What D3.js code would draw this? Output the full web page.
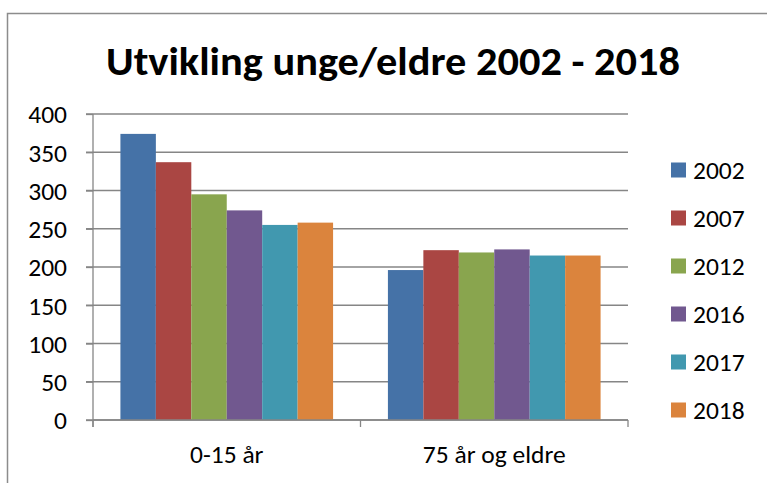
<!DOCTYPE html>
<html>
<head>
<meta charset="utf-8">
<script src="https://cdn.jsdelivr.net/npm/d3@7"></script>
<style>
  body { margin: 0; background: #fff; }
  svg text { font-family: Calibri, Carlito, "Liberation Sans", Arial, sans-serif; fill: #000; }
</style>
</head>
<body>
<svg id="chart" width="767" height="483"></svg>
<script>
// data
const groups = ["0-15 år", "75 år og eldre"];
const years = ["2002", "2007", "2012", "2016", "2017", "2018"];
const young = [374, 337, 295, 274, 255, 258];
const old = [196, 222, 219, 223, 215, 215];
const yTicks = [0, 50, 100, 150, 200, 250, 300, 350, 400];
const colors = ["#4572A7", "#AA4643", "#89A54E", "#71588F", "#4198AF", "#DB843D"];

const rows = [young, old].map((vals, i) => ({ group: groups[i], vals }));

const svg = d3.select("#chart");
const plotL = 93, plotR = 628, plotT = 114, plotB = 420;
const fs = 25.5;

// outer chart frame
svg.append("rect")
  .attr("x", 7.5).attr("y", 13.5)
  .attr("width", 800).attr("height", 500)
  .attr("fill", "none").attr("stroke", "#8c8c8c").attr("stroke-width", 1.5);

svg.append("text")
  .attr("x", 393).attr("y", 75)
  .attr("text-anchor", "middle")
  .attr("font-size", 40).attr("font-weight", "bold")
  .attr("textLength", 574).attr("lengthAdjust", "spacingAndGlyphs")
  .text("Utvikling unge/eldre 2002 - 2018");

const x0 = d3.scaleBand().domain(groups).range([plotL, plotR]);
const x1 = d3.scaleBand().domain(years)
  .range([0, x0.bandwidth() * 0.795]).paddingInner(0);
const y = d3.scaleLinear().domain([0, 400]).range([plotB, plotT]);

// gridlines
svg.append("g")
  .selectAll("line").data(yTicks).join("line")
  .attr("x1", plotL - 7).attr("x2", plotR)
  .attr("y1", d => y(d)).attr("y2", d => y(d))
  .attr("stroke", "#868686").attr("stroke-width", 1.3);

// y axis
const yAxis = svg.append("g")
  .attr("transform", `translate(${plotL},0)`)
  .call(d3.axisLeft(y).tickValues(yTicks).tickSize(7).tickPadding(19));
yAxis.select(".domain").remove();
yAxis.selectAll(".tick line").attr("stroke", "#868686").attr("stroke-width", 1.3);
yAxis.selectAll(".tick text").attr("font-size", fs).attr("dy", "0.35em");
svg.append("line")
  .attr("x1", plotL).attr("x2", plotL).attr("y1", plotT).attr("y2", plotB + 7)
  .attr("stroke", "#868686").attr("stroke-width", 1.3);

// bars
const offset = (x0.bandwidth() - x1.range()[1]) / 2;
svg.append("g")
  .selectAll("g").data(rows).join("g")
  .attr("transform", d => `translate(${x0(d.group) + offset},0)`)
  .selectAll("rect").data(d => d.vals.map((v, i) => ({ year: years[i], v, i })))
  .join("rect")
  .attr("x", d => x1(d.year))
  .attr("width", x1.bandwidth())
  .attr("y", d => y(d.v))
  .attr("height", d => y(0) - y(d.v))
  .attr("fill", d => colors[d.i]);

// x axis
const xAxis = svg.append("g")
  .attr("transform", `translate(0,${plotB})`)
  .call(d3.axisBottom(x0).tickSize(0).tickPadding(25));
xAxis.select(".domain").attr("stroke", "#868686").attr("stroke-width", 1.3)
  .attr("d", `M${plotL},0H${plotR}`);
xAxis.selectAll(".tick text").attr("font-size", fs).attr("dy", "0.71em");
svg.append("g")
  .selectAll("line").data([plotL, x0(groups[1]), plotR]).join("line")
  .attr("x1", d => d).attr("x2", d => d)
  .attr("y1", plotB).attr("y2", plotB + 7)
  .attr("stroke", "#868686").attr("stroke-width", 1.3);

// legend
const legend = svg.append("g")
  .selectAll("g").data(years).join("g")
  .attr("transform", (d, i) => `translate(671,${170 + i * 48})`);
legend.append("rect")
  .attr("x", 0).attr("y", -7.5).attr("width", 15).attr("height", 15)
  .attr("fill", (d, i) => colors[i]);
legend.append("text")
  .attr("x", 22).attr("dy", "0.36em")
  .attr("font-size", fs)
  .text(d => d);
</script>
</body>
</html>
